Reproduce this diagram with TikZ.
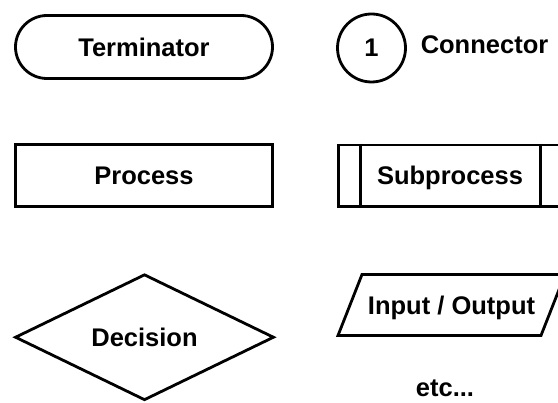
\documentclass[tikz,border=0pt]{standalone}
\usepackage{fontspec}
\setmainfont{Liberation Sans}
\usetikzlibrary{shapes.geometric}
\begin{document}
\begin{tikzpicture}[x=1pt,y=-1pt,
  every node/.style={font=\fontsize{25.5}{30}\selectfont\bfseries, inner sep=0pt},
  shapebox/.style={draw=black, line width=2.8pt, text depth=0pt, fill=white},
  outline/.style={draw=black, line width=2.8pt, line join=miter},
  lbl/.style={text depth=0pt}
]
\useasboundingbox[fill=white] (0,0) rectangle (558,403);
% Terminator
\node[shapebox, minimum width=257pt, minimum height=63pt, rounded corners=31.5pt] (term) at (144,47) {Terminator};
% Connector
\node[shapebox, circle, minimum size=68pt] (conn) at (371.5,48) {1};
\node[lbl] (connlbl) at (484.5,45) {Connector};
% Process
\node[shapebox, minimum width=257pt, minimum height=62pt] (proc) at (144,175.5) {Process};
% Subprocess
\node[shapebox, minimum width=223pt, minimum height=61.5pt] (sub) at (450,175.75) {Subprocess};
\draw[outline] ([xshift=-89.5pt]sub.north) -- ([xshift=-89.5pt]sub.south);
\draw[outline] ([xshift=90.5pt]sub.north) -- ([xshift=90.5pt]sub.south);
% Decision
\node[shapebox, diamond, aspect=2, minimum width=259pt, minimum height=126pt] (dec) at (144.5,337.25) {Decision};
% Input / Output
\coordinate (io1) at (338,335.5);
\coordinate (io2) at (362,274.5);
\coordinate (io3) at (565,274.5);
\coordinate (io4) at (541,335.5);
\draw[outline] (io1) -- (io2) -- (io3) -- (io4) -- cycle;
\node[lbl] (io) at (451.5,305) {Input / Output};
% etc
\node[anchor=base] (etc) at (445,397) {etc...};
\end{tikzpicture}
\end{document}
